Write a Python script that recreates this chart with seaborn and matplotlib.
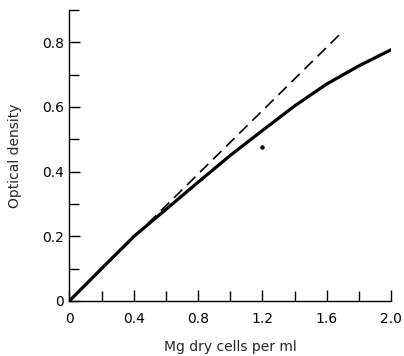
import matplotlib
matplotlib.use("Agg")
import matplotlib.pyplot as plt
import seaborn as sns
import pandas as pd
from matplotlib.ticker import MultipleLocator

# Data
mg_cells = [0.0, 0.2, 0.4, 0.6, 0.8, 1.0, 1.2, 1.4, 1.6, 1.8, 2.0]
optical_density = [0.0, 0.10, 0.199, 0.283, 0.367, 0.45, 0.527, 0.603, 0.671, 0.727, 0.777]
ideal_x = [0.0, 1.68]
ideal_y = [0.0, 0.824]
stray_x = [1.2]
stray_y = [0.477]

x_ticks = [0, 0.4, 0.8, 1.2, 1.6, 2.0]
x_tick_labels = ["0", "0.4", "0.8", "1.2", "1.6", "2.0"]
y_ticks = [0, 0.2, 0.4, 0.6, 0.8]
y_tick_labels = ["0", "0.2", "0.4", "0.6", "0.8"]

sns.set_style("ticks")
plt.rcParams["font.family"] = ["DejaVu Sans"]

fig = plt.figure(figsize=(4.04, 3.56), dpi=100)
ax = fig.add_axes([0.172, 0.155, 0.796, 0.817])

df_curve = pd.DataFrame({"x": mg_cells, "y": optical_density})
df_ideal = pd.DataFrame({"x": ideal_x, "y": ideal_y})

sns.lineplot(data=df_ideal, x="x", y="y", ax=ax, color="black", linewidth=1.2,
             dashes=False, linestyle=(0, (7, 4)))
sns.lineplot(data=df_curve, x="x", y="y", ax=ax, color="black", linewidth=2.3)
sns.scatterplot(x=stray_x, y=stray_y, ax=ax, color="black", s=10, linewidth=0)

ax.set_xlim(0, 2.0)
ax.set_ylim(0, 0.9)
ax.set_xticks(x_ticks)
ax.set_xticklabels(x_tick_labels)
ax.set_yticks(y_ticks)
ax.set_yticklabels(y_tick_labels)
ax.xaxis.set_minor_locator(MultipleLocator(0.2))
ax.yaxis.set_minor_locator(MultipleLocator(0.1))

ax.tick_params(axis="both", which="both", direction="in", color="black", width=1.0)
ax.tick_params(axis="both", which="major", length=8, labelsize=10, labelcolor="black")
ax.tick_params(axis="x", which="major", pad=8)
ax.tick_params(axis="y", which="major", pad=4)
ax.tick_params(axis="both", which="minor", length=7)

for s in ["top", "right"]:
    ax.spines[s].set_visible(False)
for s in ["left", "bottom"]:
    ax.spines[s].set_color("black")
    ax.spines[s].set_linewidth(1.0)

ax.set_xlabel("Mg dry cells per ml", fontsize=10, labelpad=10)
ax.set_ylabel("Optical density", fontsize=10, labelpad=14)

fig.savefig("out.png", dpi=100)
